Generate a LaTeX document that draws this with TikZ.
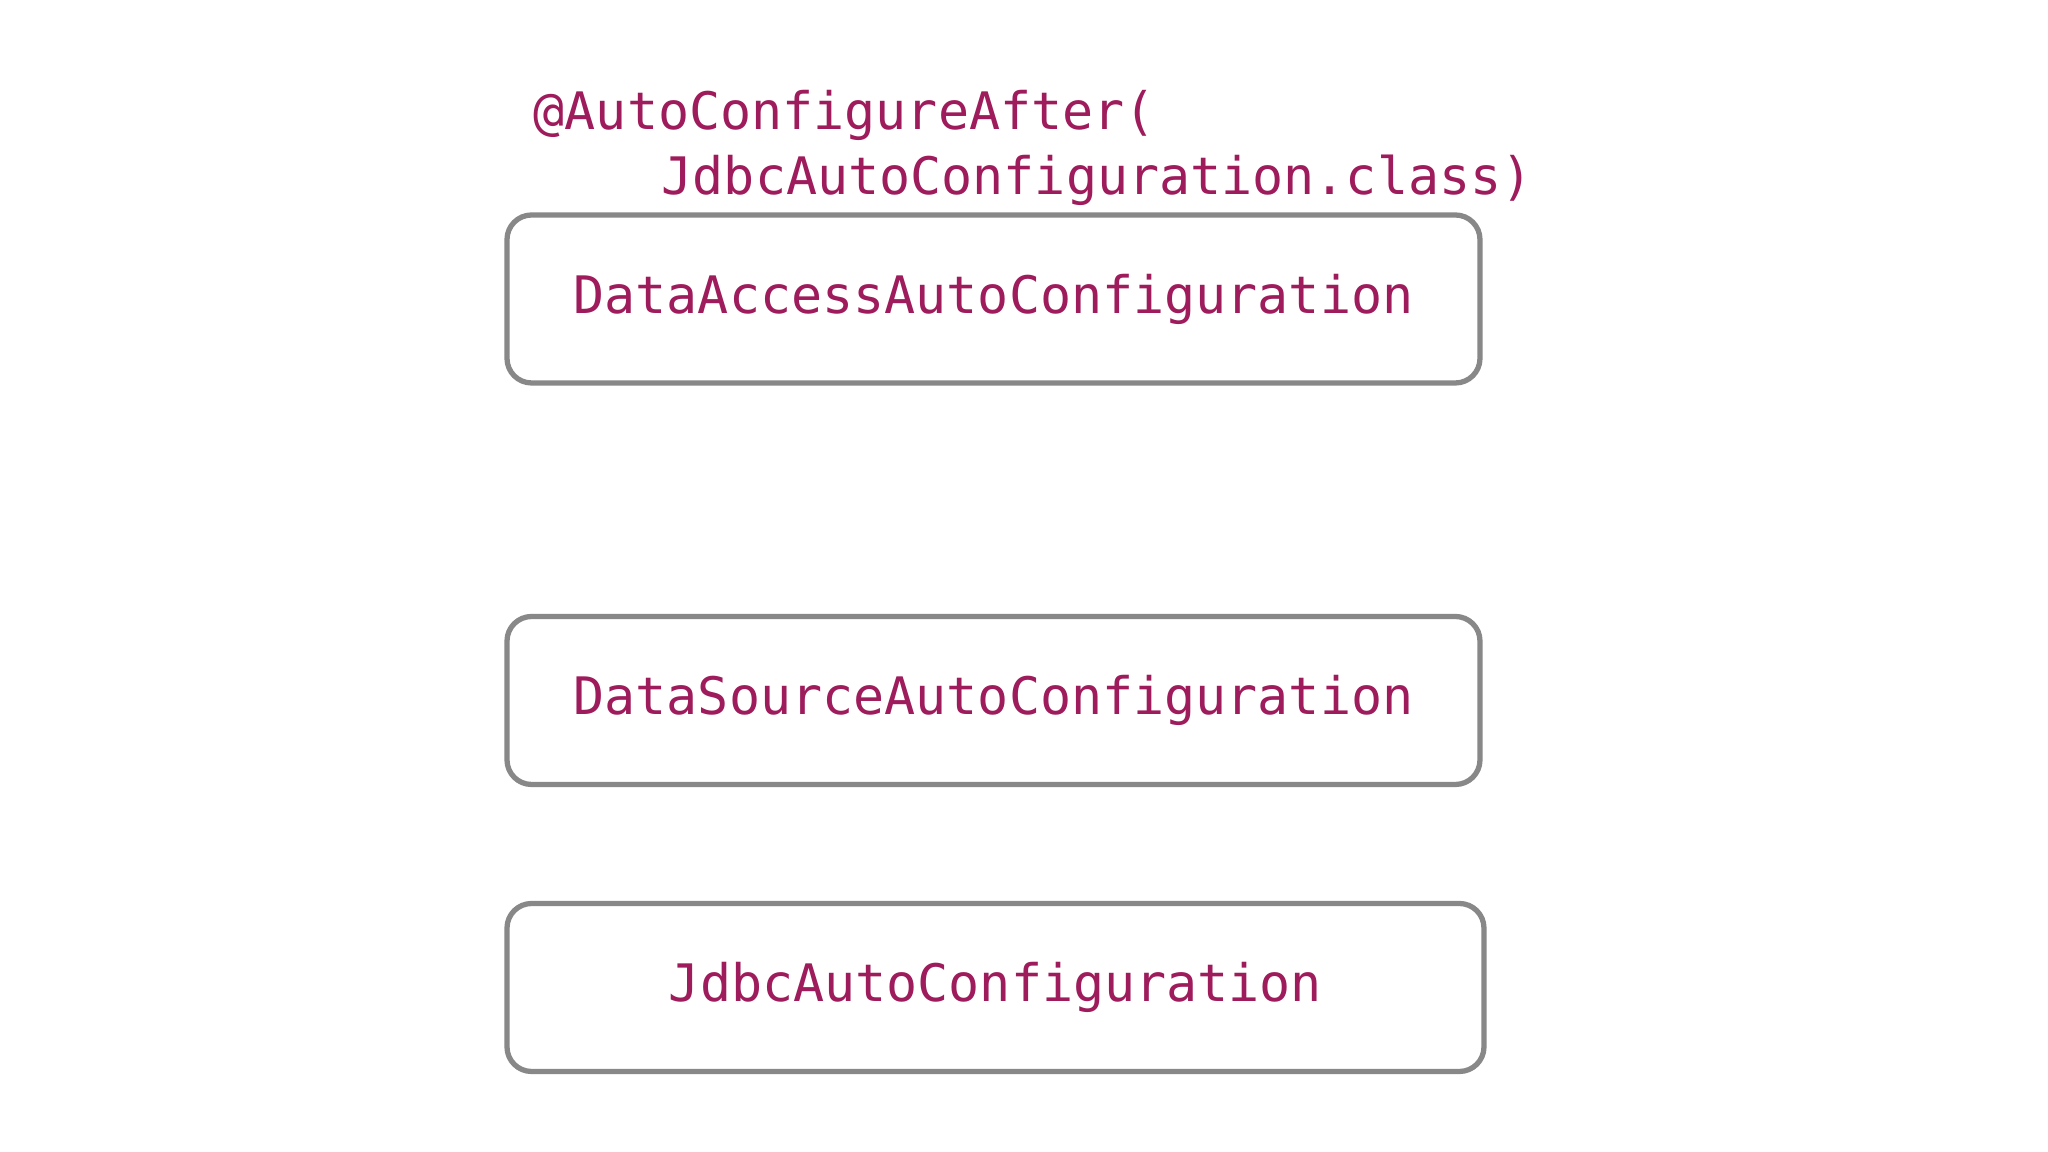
\documentclass[tikz,border=0pt]{standalone}
\usepackage{fontspec}
\setmonofont{DejaVu Sans Mono}
\usepackage{xcolor}
\usepackage{tikz}
\usetikzlibrary{positioning}
\definecolor{codepink}{RGB}{158,27,92}
\definecolor{boxgray}{RGB}{136,136,136}

\begin{document}
\begin{tikzpicture}[
    confbox/.style={draw=boxgray,line width=1.5pt,rounded corners=7pt,fill=white,
      minimum width=9.73cm,minimum height=1.68cm,align=center,
      font=\ttfamily\fontsize{14.7}{18}\selectfont,text=codepink},
    annot/.style={anchor=base west,inner sep=0pt,
      font=\ttfamily\fontsize{14.7}{18}\selectfont,text=codepink}
  ]
    \useasboundingbox[fill=white] (0,0) rectangle (20.48,11.52);
    \node[confbox] (dataaccess) at (9.935,8.53) {DataAccessAutoConfiguration};
    \node[confbox] (datasource) at (9.935,4.515) {DataSourceAutoConfiguration};
    \node[confbox,minimum width=9.77cm] (jdbc) at (9.955,1.645) {JdbcAutoConfiguration};
    \node[annot] (after) at (5.33,10.22) {@AutoConfigureAfter(};
    \node[annot] (afterclass) at (6.61,9.57) {JdbcAutoConfiguration.class)};
  \end{tikzpicture}
\end{document}
